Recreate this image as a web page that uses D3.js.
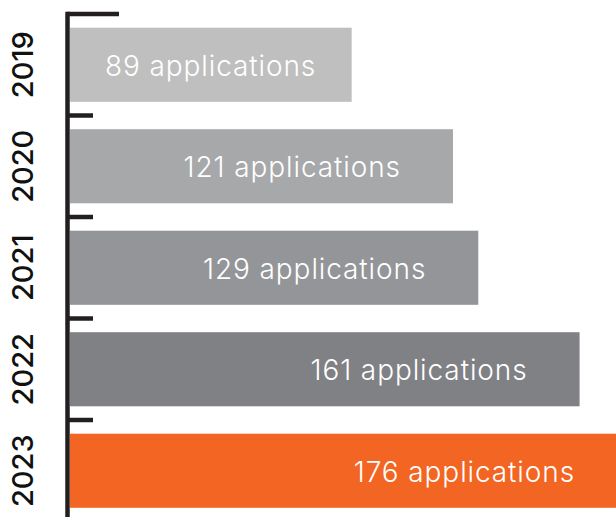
<!DOCTYPE html>
<html lang="en">
<head>
  <script src="https://d3js.org/d3.v7.min.js"></script>
  <style>
    body { margin: 0; background: #fff; }
    svg { display: block; }
  </style>
</head>
<body>
<svg width="616" height="517"></svg>
<script>
  // data
  var years = ["2019", "2020", "2021", "2022", "2023"];
  var applications = [89, 121, 129, 161, 176];
  var barColors = ["#bebfbe", "#a7a8aa", "#949598", "#808184", "#f26522"];

  var svg = d3.select("svg"),
      axisX = 67.5,
      barLeft = 70;

  var y = d3.scaleBand()
      .domain(years)
      .range([14, 14 + 5 * 101.5])
      .paddingInner(0.27)
      .paddingOuter(0.135);

  var x = d3.scaleLinear()
      .domain([0, 176])
      .range([barLeft, barLeft + 3.165 * 176]);

  var data = years.map(function(d, i) {
    return { year: d, value: applications[i], color: barColors[i] };
  });

  // bars
  svg.selectAll(".bar")
    .data(data)
    .enter().append("rect")
    .attr("class", "bar")
    .attr("x", x(0))
    .attr("y", function(d) { return y(d.year); })
    .attr("width", function(d) { return x(d.value) - x(0); })
    .attr("height", y.bandwidth())
    .attr("fill", function(d) { return d.color; });

  // value labels, right aligned inside bar but kept clear of the axis
  svg.selectAll(".val")
    .data(data)
    .enter().append("text")
    .attr("class", "val")
    .attr("font-family", "Inter, Liberation Sans, sans-serif")
    .attr("font-size", "28px")
    .attr("font-weight", 300)
    .attr("letter-spacing", "0.9px")
    .attr("fill", "#fff")
    .attr("text-anchor", "end")
    .attr("y", function(d) { return y(d.year) + y.bandwidth() / 2 + 11; })
    .text(function(d) { return d.value + " applications"; })
    .attr("x", function(d) {
      var w = this.getComputedTextLength();
      return Math.max(x(d.value) - 52, x(0) + 35 + w);
    });

  // axis line + ticks at band boundaries
  var step = y.step();
  var bounds = years.map(function(d) { return y(d) - y.paddingInner() * step / 2; });

  svg.append("line")
    .attr("x1", axisX).attr("x2", axisX)
    .attr("y1", bounds[0] - 2.2).attr("y2", 517)
    .attr("stroke", "#231f20")
    .attr("stroke-width", 4.5);

  svg.selectAll(".tick")
    .data(bounds)
    .enter().append("line")
    .attr("class", "tick")
    .attr("x1", axisX)
    .attr("x2", function(d, i) { return i === 0 ? 119 : 93; })
    .attr("y1", function(d) { return d; })
    .attr("y2", function(d) { return d; })
    .attr("stroke", "#231f20")
    .attr("stroke-width", 4.5);

  // year labels, rotated
  svg.selectAll(".year")
    .data(years)
    .enter().append("text")
    .attr("class", "year")
    .attr("font-family", "Inter, Liberation Sans, sans-serif")
    .attr("font-size", "29px")
    .attr("font-weight", 500)
    .attr("fill", "#111")
    .attr("text-anchor", "middle")
    .attr("transform", function(d) {
      return "translate(33," + (y(d) + y.bandwidth() / 2) + ") rotate(-90)";
    })
    .text(function(d) { return d; });
</script>
</body>
</html>
